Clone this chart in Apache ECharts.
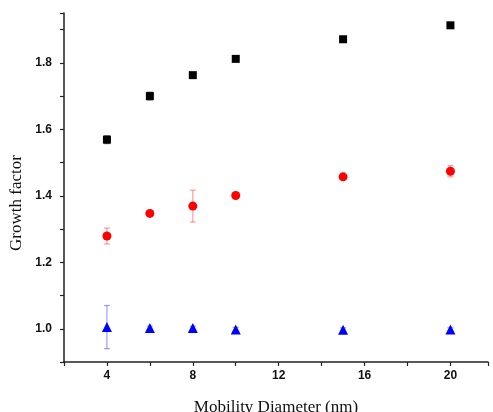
<!DOCTYPE html>
<html>
<head>
<meta charset="utf-8">
<script src="https://cdn.jsdelivr.net/npm/echarts@6/dist/echarts.min.js"></script>
<style>
html, body { margin: 0; padding: 0; background: #fff; }
#container { width: 493px; height: 412px; }
</style>
</head>
<body>
<div id="container"></div>
<script>
// growth factor vs mobility diameter, three particle types
var diameters = [4, 6, 8, 10, 15, 20];

var gfSquare = [1.569, 1.700, 1.763, 1.812, 1.871, 1.913];
var errSquare = [0.012, 0.012, 0.005, 0.005, 0.006, 0.006];

var gfCircle = [1.279, 1.347, 1.369, 1.401, 1.457, 1.474];
var errCircle = [0.024, 0.004, 0.048, 0.004, 0.004, 0.017];

var gfTriangle = [1.005, 1.002, 1.002, 0.998, 0.997, 0.998];
var errTriangle = [0.065, 0.006, 0.006, 0.006, 0.006, 0.005];

var xTickLabels = [4, 8, 12, 16, 20];
var yTickLabels = [1.0, 1.2, 1.4, 1.6, 1.8];

var dom = document.getElementById("container");
var myChart = echarts.init(dom);
var option = null;

var pointData = function (ys) {
    var res = [];
    for (var i = 0; i < diameters.length; i++) {
        res.push([diameters[i], ys[i]]);
    }
    return res;
};
var errData = function (ys, errs) {
    var res = [];
    for (var i = 0; i < diameters.length; i++) {
        res.push([diameters[i], ys[i] - errs[i], ys[i] + errs[i]]);
    }
    return res;
};
var errSeries = function (ys, errs, color) {
    return {
        type: 'custom',
        z: 1,
        data: errData(ys, errs),
        renderItem: function (params, api) {
            var lo = api.coord([api.value(0), api.value(1)]);
            var hi = api.coord([api.value(0), api.value(2)]);
            var w = 3;
            var st = { stroke: color, lineWidth: 1.2 };
            return {
                type: 'group',
                children: [
                    { type: 'line', shape: { x1: lo[0], y1: lo[1], x2: hi[0], y2: hi[1] }, style: st },
                    { type: 'line', shape: { x1: lo[0] - w, y1: lo[1], x2: lo[0] + w, y2: lo[1] }, style: st },
                    { type: 'line', shape: { x1: hi[0] - w, y1: hi[1], x2: hi[0] + w, y2: hi[1] }, style: st }
                ]
            };
        }
    };
};

var axisFont = { fontFamily: 'Liberation Sans', fontWeight: 'bold', fontSize: 12, color: '#111' };

option = {
    backgroundColor: '#fff',
    animation: false,
    grid: { left: 64, right: 5, top: 13, bottom: 50, outerBoundsMode: 'none', containLabel: false },
    graphic: [{
        type: 'text',
        x: 17,
        y: 203,
        rotation: Math.PI / 2,
        style: {
            text: 'Growth factor',
            align: 'center',
            verticalAlign: 'middle',
            fontFamily: 'Liberation Serif',
            fontSize: 17,
            fill: '#111'
        }
    }],
    xAxis: {
        type: 'value',
        min: 2,
        max: 21.75,
        interval: 2,
        name: 'Mobility Diameter (nm)',
        nameLocation: 'middle',
        nameGap: 37,
        nameTextStyle: { fontFamily: 'Liberation Serif', fontSize: 17, color: '#111' },
        splitLine: { show: false },
        axisLine: { onZero: false, lineStyle: { color: '#222', width: 1.5 } },
        axisTick: { length: 4, lineStyle: { color: '#222', width: 1.2 } },
        axisLabel: Object.assign({
            margin: 8,
            formatter: function (v) {
                return xTickLabels.indexOf(Math.round(v * 100) / 100) >= 0 ? String(v) : '';
            }
        }, axisFont)
    },
    yAxis: {
        type: 'value',
        min: 0.9,
        max: 1.95,
        interval: 0.1,
        splitLine: { show: false },
        axisLine: { lineStyle: { color: '#222', width: 1.5 } },
        axisTick: { length: 4, lineStyle: { color: '#222', width: 1.2 } },
        axisLabel: Object.assign({
            margin: 12,
            formatter: function (v) {
                var r = Math.round(v * 10) / 10;
                if (Math.abs(r - v) > 1e-6) return '';
                return yTickLabels.indexOf(r) >= 0 ? r.toFixed(1) : '';
            }
        }, axisFont)
    },
    series: [
        errSeries(gfSquare, errSquare, 'rgba(0,0,0,0.45)'),
        errSeries(gfCircle, errCircle, 'rgba(255,60,60,0.5)'),
        errSeries(gfTriangle, errTriangle, 'rgba(60,60,255,0.5)'),
        {
            type: 'scatter',
            z: 3,
            symbol: 'rect',
            symbolSize: 8,
            itemStyle: { color: '#000', opacity: 1 },
            data: pointData(gfSquare)
        },
        {
            type: 'scatter',
            z: 3,
            symbol: 'circle',
            symbolSize: 9,
            itemStyle: { color: '#ff0000', opacity: 1 },
            data: pointData(gfCircle)
        },
        {
            type: 'scatter',
            z: 3,
            symbol: 'triangle',
            symbolSize: 10,
            itemStyle: { color: '#0000ff', opacity: 1 },
            data: pointData(gfTriangle)
        }
    ]
};
if (option && typeof option === "object") {
    myChart.setOption(option, true);
}
</script>
</body>
</html>
